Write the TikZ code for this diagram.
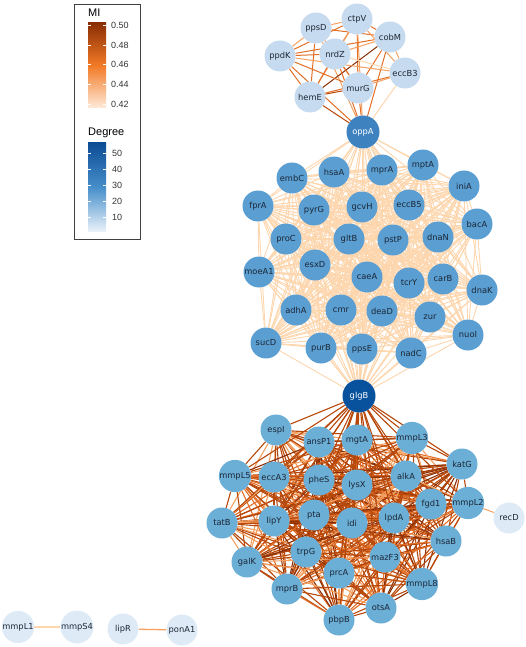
\documentclass[tikz,border=0pt]{standalone}
\usepackage{fontspec}
\setsansfont{DejaVu Sans}
\newfontfamily\legfont{Liberation Sans}
\usepackage{xcolor}
\definecolor{GenPale}{RGB}{222,235,247}
\definecolor{GenLight}{RGB}{198,219,239}
\definecolor{GenMid}{RGB}{90,158,210}
\definecolor{GenLow}{RGB}{107,174,214}
\definecolor{GenHub}{RGB}{62,130,192}
\definecolor{GenTop}{RGB}{8,81,156}
\definecolor{GenText}{RGB}{28,38,52}
\definecolor{MIPale}{RGB}{254,234,216}
\definecolor{MIPeach}{RGB}{253,214,174}
\definecolor{MILight}{RGB}{246,160,95}
\definecolor{MIMed}{RGB}{226,110,40}
\definecolor{MIBar}{RGB}{242,122,38}
\definecolor{MIDark}{RGB}{184,72,10}
\definecolor{MIDeep}{RGB}{138,46,5}
\definecolor{DegDeep}{RGB}{12,76,148}
\definecolor{DegMid}{RGB}{70,142,202}
\definecolor{DegPale}{RGB}{232,241,250}
\usepackage{tikz}
\usetikzlibrary{backgrounds}

\begin{document}
\begin{tikzpicture}[x=1pt,y=-1pt,
		gen/.style={circle,minimum size=31pt,inner sep=0pt,text=GenText,
			font=\sffamily\fontsize{8.3}{9}\selectfont},
		topgen/.style={gen,fill=GenLight},
		midgen/.style={gen,fill=GenMid},
		lowgen/.style={gen,fill=GenLow},
		palegen/.style={gen,fill=GenPale},
		hubgen/.style={gen,minimum size=33pt,text=white},
		topedge/.style={line width=1pt},
		midedge/.style={line width=0.9pt,draw=MIPeach},
		lowedge/.style={line width=1.1pt},
		legtitle/.style={anchor=west,inner sep=0pt,font=\legfont\fontsize{11}{12}\selectfont},
		leglabel/.style={anchor=west,inner sep=0pt,font=\legfont\fontsize{9}{10}\selectfont,text=black!80}]
			\useasboundingbox (0,0) rectangle (526,647);
			% Listas de genes
			\def\topnodes{ppsD/316/28,ctpV/357/19,cobM/390/37,ppdK/280/56,nrdZ/335/54,
				eccB3/405/73,murG/358/88,hemE/310/97}
			\def\midnodes{embC/292/178,hsaA/334/172,mprA/382/170,mptA/423/165,iniA/464/186,
				fprA/258/206,pyrG/314/210,gcvH/362/207,eccB5/409/205,bacA/477/224,
				proC/286/239,gltB/349/239,pstP/393/240,dnaN/438/237,moeA1/259/272,
				esxD/315/265,caeA/367/277,tcrY/409/283,carB/443/279,dnaK/482/290,
				adhA/296/310,cmr/341/310,deaD/382/311,zur/430/317,nuoI/468/335,
				sucD/266/343,purB/321/348,ppsE/362/349,nadC/411/353}
			\def\lownodes{espI/276/430,ansP1/319/442,mgtA/357/440,mmpL3/412/438,katG/462/464,
				mmpL5/235/476,eccA3/274/477,pheS/319/480,lysX/357/485,alkA/406/476,
				fgd1/431/504,mmpL2/468/503,tatB/222/523,lipY/274/521,pta/314/515,
				idi/352/523,lpdA/394/518,hsaB/446/541,galK/247/562,trpG/306/552,
				mazF3/385/557,prcA/339/573,mmpL8/422/584,mprB/287/589,otsA/381/608,
				pbpB/339/620}
			% Nodos
			\foreach \n/\x/\y in \topnodes {\node[topgen] (\n) at (\x,\y) {\n};}
			\foreach \n/\x/\y in \midnodes {\node[midgen] (\n) at (\x,\y) {\n};}
			\foreach \n/\x/\y in \lownodes {\node[lowgen] (\n) at (\x,\y) {\n};}
			\node[hubgen,fill=GenHub] (oppA) at (363,132) {oppA};
			\node[hubgen,fill=GenTop] (glgB) at (359,396) {glgB};
			\node[palegen] (recD) at (509,518) {recD};
			\node[palegen] (mmpL1) at (18,627) {mmpL1};
			\node[palegen] (mmpS4) at (77,627) {mmpS4};
			\node[palegen] (lipR) at (123,629) {lipR};
			\node[palegen] (ponA1) at (182,630) {ponA1};
			\begin{pgfonlayer}{background}
				% Aristas grupo superior
				\foreach \a/\b/\c in {ppsD/ctpV/MILight,ppsD/cobM/MIMed,ppsD/nrdZ/MILight,
					ppsD/ppdK/MILight,ppsD/hemE/MIMed,ppsD/murG/MILight,ppsD/oppA/MILight,
					ctpV/cobM/MIMed,ctpV/nrdZ/MIMed,ctpV/murG/MIMed,ctpV/ppdK/MIMed,
					ctpV/hemE/MILight,ctpV/eccB3/MILight,ctpV/oppA/MILight,
					cobM/nrdZ/MILight,cobM/ppdK/MIMed,cobM/hemE/MIDeep,cobM/murG/MIMed,
					cobM/eccB3/MILight,cobM/oppA/MIMed,nrdZ/ppdK/MIMed,nrdZ/hemE/MIMed,
					nrdZ/murG/MIMed,nrdZ/eccB3/MIPeach,nrdZ/oppA/MIMed,ppdK/hemE/MIMed,
					ppdK/murG/MIMed,ppdK/eccB3/MILight,ppdK/oppA/MIMed,hemE/murG/MIDark,
					hemE/eccB3/MIMed,hemE/oppA/MIDark,murG/eccB3/MILight,murG/oppA/MIMed,
					eccB3/oppA/MIPeach}
					\draw[topedge,draw=\c] (\a) -- (\b);
				% Aristas grupo central
				\foreach \a/\ax/\ay [count=\i] in \midnodes {
					\draw[midedge] (oppA) -- (\a);
					\draw[midedge] (glgB) -- (\a);
					\foreach \b/\bx/\by [count=\j] in \midnodes {
						\ifnum\i<\j \draw[midedge] (\a) -- (\b);\fi
					}
				}
				% Aristas grupo inferior
				\foreach \a/\ax/\ay [count=\i] in \lownodes {
					\draw[lowedge,draw=MIDark] (glgB) -- (\a);
					\foreach \b/\bx/\by [count=\j] in \lownodes {
						\pgfmathtruncatemacro\k{mod(\i*7+\j*3,6)}
						\ifcase\k \def\ecol{MIMed}\or \def\ecol{MIDark}\or \def\ecol{MIDeep}
						\or \def\ecol{MIDark}\or \def\ecol{MILight}\else \def\ecol{MIDark}\fi
						\ifnum\i<\j \draw[lowedge,draw=\ecol] (\a) -- (\b);\fi
					}
				}
				\draw[topedge,draw=MILight] (mmpL2) -- (recD);
				\draw[topedge,line width=1.3pt,draw=MIPeach] (mmpL1) -- (mmpS4);
				\draw[topedge,line width=1.3pt,draw=MILight] (lipR) -- (ponA1);
			\end{pgfonlayer}
			% Leyenda
			\draw[line width=0.9pt,draw=black!75] (74,4) rectangle (140,239);
			\node[legtitle] (miTitle) at (88,13) {MI};
			\shade[top color=MIDeep,bottom color=MIPale,middle color=MIBar] (88,23) rectangle (106,108);
			\foreach \y/\v in {25/0.50,45/0.48,64/0.46,84/0.44,104/0.42}{
				\draw[white,line width=0.4pt] (88,\y) -- (91,\y) (103,\y) -- (106,\y);
				\node[leglabel] (mi\v) at (111,\y) {\v};
			}
			\node[legtitle] (degTitle) at (88,133) {Degree};
			\shade[top color=DegDeep,bottom color=DegPale,middle color=DegMid] (88,143) rectangle (106,231);
			\foreach \y/\v in {153/50,169/40,185/30,201/20,217/10}{
				\draw[white,line width=0.4pt] (88,\y) -- (91,\y) (103,\y) -- (106,\y);
				\node[leglabel] (deg\v) at (112,\y) {\v};
			}
			\end{tikzpicture}
\end{document}
